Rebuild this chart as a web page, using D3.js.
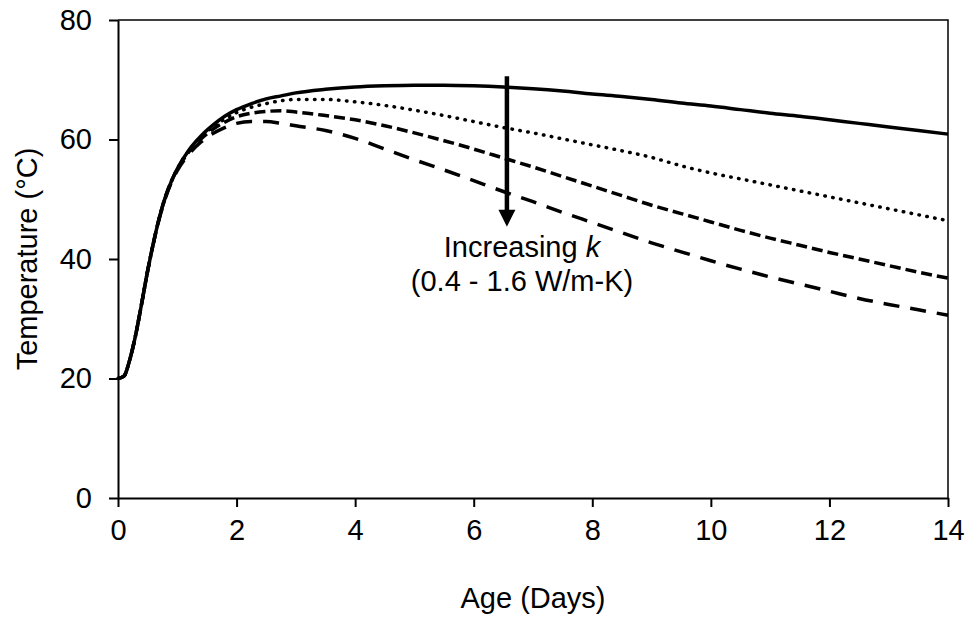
<!DOCTYPE html>
<html>
<head>
<meta charset="utf-8">
<script src="https://cdn.jsdelivr.net/npm/d3@7"></script>
<style>
  html, body { margin: 0; padding: 0; background: #fff; }
  text { font-family: "Liberation Sans", Arial, sans-serif; fill: #000; }
</style>
</head>
<body>
<svg id="chart" width="971" height="619"></svg>
<script>
// Age (days)
const ages = [0, 0.1, 0.2, 0.3, 0.4, 0.5, 0.6, 0.7, 0.8, 0.9, 1.0, 1.2, 1.4, 1.6, 1.8, 2.0, 2.25, 2.5, 2.75, 3, 3.5, 4, 4.5, 5, 5.5, 6, 6.5, 7, 7.5, 8, 8.5, 9, 9.5, 10, 10.5, 11, 11.5, 12, 12.5, 13, 13.5, 14];

// Temperature (°C) for increasing thermal conductivity k
const tempK04 = [20, 20.4, 23.2, 27.4, 32.6, 38.0, 42.8, 47.0, 50.4, 53.0, 55.1, 58.3, 60.6, 62.4, 63.9, 65.0, 66.0, 66.8, 67.3, 67.8, 68.4, 68.8, 69.0, 69.1, 69.1, 69.0, 68.8, 68.5, 68.1, 67.6, 67.2, 66.7, 66.1, 65.6, 65.0, 64.4, 63.9, 63.3, 62.7, 62.1, 61.5, 60.9];
const tempK08 = [20, 20.4, 23.2, 27.4, 32.6, 38.0, 42.8, 47.0, 50.4, 53.0, 55.1, 58.2, 60.4, 62.1, 63.4, 64.5, 65.4, 66.0, 66.5, 66.7, 66.7, 66.3, 65.7, 64.9, 64.0, 63.0, 62.0, 61.1, 60.1, 59.1, 58.1, 57.0, 55.6, 54.4, 53.4, 52.4, 51.4, 50.4, 49.4, 48.4, 47.4, 46.4];
const tempK12 = [20, 20.4, 23.2, 27.4, 32.6, 38.0, 42.8, 47.0, 50.4, 53.0, 55.0, 58.0, 60.1, 61.7, 62.9, 63.8, 64.4, 64.7, 64.8, 64.6, 64.0, 63.3, 62.3, 61.1, 59.8, 58.4, 56.9, 55.4, 53.8, 52.2, 50.6, 49.0, 47.6, 46.2, 44.8, 43.5, 42.3, 41.1, 40.0, 38.9, 37.8, 36.8];
const tempK16 = [20, 20.4, 23.2, 27.4, 32.6, 38.0, 42.8, 46.9, 50.2, 52.8, 54.8, 57.6, 59.6, 61.0, 62.0, 62.7, 63.0, 63.0, 62.7, 62.3, 61.5, 60.2, 58.4, 56.6, 54.9, 53.1, 51.3, 49.6, 47.8, 46.1, 44.4, 42.7, 41.2, 39.7, 38.3, 37.0, 35.8, 34.6, 33.4, 32.4, 31.5, 30.6];

const xTicks = [0, 2, 4, 6, 8, 10, 12, 14];
const yTicks = [0, 20, 40, 60, 80];
const xTitle = "Age (Days)";
const yTitle = "Temperature (°C)";

const series = [
  { values: tempK04, dash: null, width: 3.5, cap: "butt" },
  { values: tempK08, dash: "0.5,7.5", width: 3.5, cap: "round" },
  { values: tempK12, dash: "11,5", width: 3.5, cap: "butt" },
  { values: tempK16, dash: "16,11", width: 3.5, cap: "butt" }
];

// Annotation (arrow from high to low temperature at given age)
const arrowAge = 6.56, arrowFrom = 70.6, arrowTo = 45.4;

const svg = d3.select("#chart");
const L = 118, R = 948, T = 20, B = 498;
const x = d3.scaleLinear().domain([0, 14]).range([L, R]);
const y = d3.scaleLinear().domain([0, 80]).range([B, T]);
const FS = 29;

// frame (top & right)
svg.append("path")
  .attr("d", `M${L},${T}H${R}V${B}`)
  .attr("fill", "none").attr("stroke", "#000").attr("stroke-width", 1.5);

// axes
const xAxis = svg.append("g").attr("transform", `translate(0,${B})`)
  .call(d3.axisBottom(x).tickValues(xTicks).tickSize(9).tickPadding(12).tickSizeOuter(0));
const yAxis = svg.append("g").attr("transform", `translate(${L},0)`)
  .call(d3.axisLeft(y).tickValues(yTicks).tickSize(9).tickPadding(17).tickSizeOuter(0));
[xAxis, yAxis].forEach(g => {
  g.select(".domain").attr("stroke", "#000").attr("stroke-width", 2);
  g.selectAll(".tick line").attr("stroke", "#000").attr("stroke-width", 2);
  g.selectAll(".tick text").attr("font-size", FS).attr("font-family", "Liberation Sans, Arial, sans-serif").attr("fill", "#000");
});

// titles
svg.append("text").attr("x", (L + R) / 2).attr("y", 598).attr("dy", "0.35em")
  .attr("text-anchor", "middle").attr("font-size", FS).text(xTitle);
svg.append("text").attr("transform", `translate(27,${(T + B) / 2}) rotate(-90)`)
  .attr("dy", "0.35em").attr("text-anchor", "middle").attr("font-size", FS).text(yTitle);

// lines
const line = d3.line().x((d, i) => x(ages[i])).y(d => y(d)).curve(d3.curveMonotoneX);
series.forEach(s => {
  svg.append("path").datum(s.values)
    .attr("d", line)
    .attr("fill", "none").attr("stroke", "#000")
    .attr("stroke-width", s.width)
    .attr("stroke-dasharray", s.dash)
    .attr("stroke-linecap", s.cap)
    .attr("stroke-linejoin", "round");
});

// arrow
const ax = x(arrowAge), ay1 = y(arrowFrom), ay2 = y(arrowTo);
svg.append("line").attr("x1", ax).attr("x2", ax).attr("y1", ay1).attr("y2", ay2 - 15)
  .attr("stroke", "#000").attr("stroke-width", 4.5);
svg.append("path").attr("d", `M${ax - 8.5},${ay2 - 17}L${ax + 8.5},${ay2 - 17}L${ax},${ay2}Z`).attr("fill", "#000");

// annotation text
const ann = svg.append("text").attr("x", 522).attr("y", 257).attr("text-anchor", "middle").attr("font-size", FS);
ann.append("tspan").text("Increasing ");
ann.append("tspan").attr("font-style", "italic").text("k");
svg.append("text").attr("x", 522).attr("y", 291).attr("text-anchor", "middle").attr("font-size", FS)
  .text("(0.4 - 1.6 W/m-K)");
</script>
</body>
</html>
